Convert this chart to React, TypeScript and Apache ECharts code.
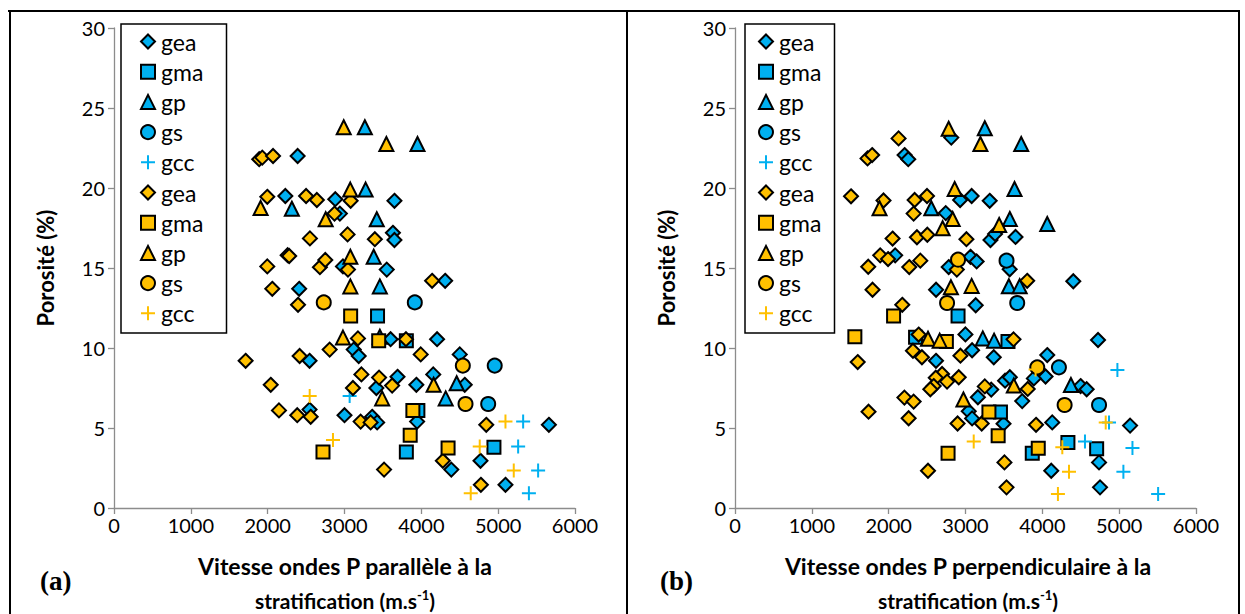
import React, { useEffect, useRef } from "react";
import * as echarts from "echarts";

// ---------- Data: panel (a) — parallel velocity (m/s), porosity (%) ----------
const parGeaBlue = [
  [2390, 22.0], [2230, 19.5], [2880, 19.3], [3650, 19.2], [2940, 18.4], [3630, 17.2], [3650, 16.75],
  [2980, 15.1], [3550, 14.9], [4310, 14.2], [2410, 13.7], [3600, 10.55], [4205, 10.55], [3120, 9.9],
  [3185, 9.5], [2545, 9.2], [4500, 9.6], [3690, 8.2], [4155, 8.35], [3415, 7.5], [3935, 7.7],
  [4565, 7.7], [2545, 6.15], [3000, 5.8], [3360, 5.7], [3425, 5.35], [3945, 5.4], [5660, 5.2],
  [4770, 2.95], [4390, 2.4], [5095, 1.45],
];
const parGmaBlue = [[3430, 12.0], [3805, 10.45], [3955, 6.1], [3805, 3.5], [4945, 3.8]];
const parGpBlue = [
  [3265, 23.8], [3950, 22.75], [2315, 18.7], [3275, 19.9], [3420, 18.05], [3380, 15.7],
  [3460, 13.85], [3460, 10.7], [4460, 7.8], [4317, 6.85],
];
const parGsBlue = [[3915, 12.85], [4955, 8.9], [4870, 6.5]];
const parGccBlue = [[3067, 7.0], [5325, 5.4], [5260, 3.85], [5520, 2.35], [5400, 0.92]];

const parGeaOrange = [
  [1890, 21.8], [1930, 21.9], [2070, 22.0], [1995, 19.45], [2500, 19.5], [2640, 19.25], [3080, 19.2],
  [2870, 18.4], [2550, 16.85], [3040, 17.1], [3395, 16.8], [2260, 15.8], [2280, 15.75], [1995, 15.1],
  [2680, 15.05], [2750, 15.5], [3045, 14.9], [4140, 14.2], [2060, 13.7], [2395, 12.7], [3175, 10.6],
  [3800, 10.55], [1713, 9.2], [2416, 9.5], [2807, 9.9], [3992, 9.6], [2040, 7.7], [3220, 8.35],
  [3450, 8.15], [3110, 7.5], [3620, 7.65], [2147, 6.1], [2385, 5.8], [2560, 5.7], [3210, 5.4],
  [3340, 5.35], [4280, 2.95], [3515, 2.4], [4845, 5.2], [4775, 1.45],
];
const parGmaOrange = [[3080, 12.0], [3445, 10.45], [3890, 6.1], [3855, 4.55], [2720, 3.5], [4348, 3.75]];
const parGpOrange = [
  [2990, 23.8], [3545, 22.75], [1908, 18.75], [3075, 19.9], [2755, 18.05], [3076, 15.7],
  [3076, 13.85], [2980, 10.65], [4160, 7.7], [3490, 6.85],
];
const parGsOrange = [[2730, 12.85], [4540, 8.9], [4575, 6.5]];
const parGccOrange = [[2547, 7.0], [2850, 4.25], [5095, 5.4], [4760, 3.85], [5203, 2.35], [4643, 0.92]];

// ---------- Data: panel (b) — perpendicular velocity (m/s), porosity (%) ----------
const perGeaBlue = [
  [2815, 23.15], [2207, 22.06], [2255, 21.8], [2930, 19.25], [3080, 19.5], [3315, 19.2], [2743, 18.43],
  [3325, 16.75], [3385, 17.13], [3651, 16.94], [2085, 15.79], [2781, 15.06], [3065, 15.7], [3145, 15.41],
  [3575, 14.92], [2617, 13.64], [4403, 14.17], [3133, 12.67], [2999, 10.85], [4725, 10.5], [2616, 9.2],
  [3086, 9.86], [3368, 9.42], [4064, 9.56], [4042, 8.22], [3890, 8.1], [3515, 7.96], [3577, 8.17],
  [3335, 7.4], [4498, 7.62], [4577, 7.42], [3161, 6.92], [3738, 6.68], [3042, 6.05], [3086, 5.6],
  [3495, 5.27], [4129, 5.35], [5142, 5.15], [4116, 2.33], [4738, 2.85], [4751, 1.29],
];
const perGmaBlue = [[2903, 12.0], [2350, 10.67], [3553, 10.4], [3455, 6.0], [3869, 3.42], [4333, 4.1], [4707, 3.7]];
const perGpBlue = [
  [3251, 23.73], [3725, 22.75], [2555, 18.73], [3638, 19.94], [3577, 18.06], [4064, 17.75],
  [3564, 13.86], [3705, 13.86], [3225, 10.6], [3372, 10.46], [4372, 7.69],
];
const perGsBlue = [[3534, 15.46], [3673, 12.81], [4216, 8.79], [4738, 6.44]];
const perGccBlue = [[4977, 8.63], [4555, 4.15], [4868, 5.35], [5173, 3.75], [5055, 2.27], [5507, 0.88]];

const perGeaOrange = [
  [2129, 23.1], [1725, 21.85], [1785, 22.06], [1510, 19.48], [1933, 19.22], [2338, 19.25], [2499, 19.5],
  [2325, 18.4], [2051, 16.84], [2368, 16.92], [2503, 17.08], [3012, 16.8], [1890, 15.79], [1992, 15.56],
  [1734, 15.08], [2268, 15.06], [2412, 15.46], [2887, 14.9], [1790, 13.64], [3803, 14.2], [2177, 12.7],
  [2390, 10.84], [3625, 10.54], [2316, 9.83], [2433, 9.42], [2934, 9.52], [1597, 9.12], [2695, 8.38],
  [2613, 8.14], [2760, 7.9], [2912, 8.17], [2586, 7.62], [2542, 7.42], [3251, 7.6], [3810, 7.44],
  [2205, 6.9], [2325, 6.65], [1738, 6.02], [2260, 5.61], [2897, 5.28], [3211, 5.28], [3918, 5.2],
  [3507, 2.85], [2512, 2.33], [3534, 1.29],
];
const perGmaOrange = [[2064, 12.0], [1560, 10.7], [2751, 10.4], [3305, 6.0], [3425, 4.52], [2773, 3.42], [3947, 3.73]];
const perGpOrange = [
  [2781, 23.7], [3194, 22.75], [1881, 18.73], [2859, 19.94], [2833, 18.06], [2702, 17.48], [3438, 17.69],
  [2810, 13.8], [3080, 13.88], [2512, 10.58], [2664, 10.46], [2973, 6.78], [3629, 7.65],
];
const perGsOrange = [[2903, 15.52], [2760, 12.81], [3934, 8.79], [4290, 6.44]];
const perGccOrange = [[3107, 4.15], [3912, 8.65], [4825, 5.35], [4260, 3.79], [4347, 2.27], [4203, 0.88]];

const groupNames = ["gea", "gma", "gp", "gs", "gcc"];
const xTickValues = [0, 1000, 2000, 3000, 4000, 5000, 6000];
const yTickValues = [0, 5, 10, 15, 20, 25, 30];

// ---------- Styling ----------
const BLUE = "#00B0F0";
const ORANGE = "#FFC000";
const AXIS_GREY = "#8c8c8c";
const PLUS = "path://M6,0h2v6h6v2h-6v6h-2v-6h-6v-2h6z";
const SYMBOLS: Record<string, { symbol: string; size: number }> = {
  gea: { symbol: "diamond", size: 14 },
  gma: { symbol: "rect", size: 13 },
  gp: { symbol: "triangle", size: 14 },
  gs: { symbol: "circle", size: 14 },
  gcc: { symbol: PLUS, size: 14 },
};

function makeSeries(name: string, color: string, data: number[][], idx: number, orange: boolean) {
  const s = SYMBOLS[name];
  const isPlus = name === "gcc";
  return {
    type: "scatter",
    name: orange ? name + " " : name,
    xAxisIndex: idx,
    yAxisIndex: idx,
    data,
    symbol: s.symbol,
    symbolSize: s.size,
    symbolKeepAspect: true,
    itemStyle: {
      color,
      opacity: 1,
      borderColor: "#000",
      borderWidth: isPlus ? 0 : 2,
    },
    emphasis: { disabled: true },
    z: orange ? 3 : 2,
  };
}

export default function App() {
  const ref = useRef<HTMLDivElement>(null);
  useEffect(() => {
    document.body.style.margin = "0";
    if (!ref.current) return;
    const chart = echarts.init(ref.current, undefined, { renderer: "svg" });

    const panels = [
      {
        blue: [parGeaBlue, parGmaBlue, parGpBlue, parGsBlue, parGccBlue],
        orange: [parGeaOrange, parGmaOrange, parGpOrange, parGsOrange, parGccOrange],
      },
      {
        blue: [perGeaBlue, perGmaBlue, perGpBlue, perGsBlue, perGccBlue],
        orange: [perGeaOrange, perGmaOrange, perGpOrange, perGsOrange, perGccOrange],
      },
    ];
    const series: any[] = [];
    panels.forEach((p, i) => {
      groupNames.forEach((g, k) => series.push(makeSeries(g, BLUE, p.blue[k], i, false)));
      groupNames.forEach((g, k) => series.push(makeSeries(g, ORANGE, p.orange[k], i, true)));
    });
    const legendNames = [...groupNames, ...groupNames.map((g) => g + " ")];

    const gridLefts = [114, 735];
    const axisCommonX = (i: number) => ({
      gridIndex: i,
      type: "value",
      min: xTickValues[0],
      max: xTickValues[xTickValues.length - 1],
      interval: xTickValues[1] - xTickValues[0],
      axisLine: { show: true, onZero: false, lineStyle: { color: AXIS_GREY, width: 1.3 } },
      axisTick: { show: true, length: 6, lineStyle: { color: AXIS_GREY, width: 1.3 } },
      splitLine: { show: false },
      axisLabel: {
        color: "#000",
        fontSize: 20,
        margin: 7,
        fontFamily: "Lato",
        formatter: (v: number) => String(v),
      },
    });
    const axisCommonY = (i: number) => ({
      gridIndex: i,
      type: "value",
      min: yTickValues[0],
      max: yTickValues[yTickValues.length - 1],
      interval: yTickValues[1] - yTickValues[0],
      name: "Porosité (%)",
      nameLocation: "middle",
      nameGap: 58,
      nameRotate: 90,
      nameTextStyle: { color: "#000", fontSize: 22, fontWeight: "bold", fontFamily: "Lato" },
      axisLine: { show: true, lineStyle: { color: AXIS_GREY, width: 1.3 } },
      axisTick: { show: true, length: 6, lineStyle: { color: AXIS_GREY, width: 1.3 } },
      splitLine: { show: false },
      axisLabel: { color: "#000", fontSize: 20, margin: 9, fontFamily: "Lato" },
    });

    const legendBoxes = [
      { x: 121, y: 24, w: 105.5, h: 309, iconLeft: 140 },
      { x: 745, y: 24, w: 89.5, h: 309, iconLeft: 758 },
    ];

    const xTitle1 = ["Vitesse ondes P parallèle à la", "Vitesse ondes P perpendiculaire à la"];
    const titleCenters = [345, 968];
    const panelLabels = ["(a)", "(b)"];
    const panelLabelX = [40, 660];

    const graphic: any[] = [];
    // outer frame
    graphic.push({ type: "line", shape: { x1: 8, y1: 11, x2: 1240, y2: 11 }, style: { stroke: "#000", lineWidth: 2 } });
    graphic.push({ type: "line", shape: { x1: 10, y1: 10, x2: 10, y2: 614 }, style: { stroke: "#000", lineWidth: 2 } });
    graphic.push({ type: "line", shape: { x1: 627, y1: 10, x2: 627, y2: 614 }, style: { stroke: "#000", lineWidth: 2 } });
    graphic.push({ type: "line", shape: { x1: 1239, y1: 10, x2: 1239, y2: 614 }, style: { stroke: "#000", lineWidth: 2 } });
    legendBoxes.forEach((b) => {
      graphic.push({
        type: "rect",
        z: 1,
        shape: { x: b.x, y: b.y, width: b.w, height: b.h },
        style: { fill: "#fff", stroke: "#000", lineWidth: 1.5 },
      });
    });
    [0, 1].forEach((i) => {
      graphic.push({
        type: "text",
        x: titleCenters[i],
        y: 566,
        style: {
          text: xTitle1[i],
          font: "bold 23px Lato",
          fill: "#000",
          textAlign: "center",
          textVerticalAlign: "middle",
        },
      });
      graphic.push({
        type: "text",
        x: titleCenters[i],
        y: 600,
        style: {
          text: "stratification (m.s{sup|-1})",
          font: "bold 21px Lato",
          fill: "#000",
          textAlign: "center",
          textVerticalAlign: "middle",
          rich: {
            sup: { font: "bold 13px Lato", fill: "#000", padding: [0, 0, 10, 0] },
          },
        },
      });
      graphic.push({
        type: "text",
        x: panelLabelX[i],
        y: 581,
        style: {
          text: panelLabels[i],
          font: "bold 27px 'Liberation Serif'",
          fill: "#000",
          textVerticalAlign: "middle",
        },
      });
    });

    chart.setOption({
      animation: false,
      backgroundColor: "#fff",
      textStyle: { fontFamily: "Lato" },
      grid: gridLefts.map((l) => ({ left: l, top: 28, width: 461, height: 480 })),
      xAxis: [axisCommonX(0), axisCommonX(1)],
      yAxis: [axisCommonY(0), axisCommonY(1)],
      legend: legendBoxes.map((b) => ({
        orient: "vertical",
        left: b.iconLeft,
        top: 30,
        padding: 0,
        itemWidth: 14,
        itemHeight: 14,
        itemGap: 7.2,
        selectedMode: false,
        data: legendNames,
        formatter: (n: string) => n.trim(),
        textStyle: { color: "#000", fontSize: 23, fontFamily: "Lato", padding: [0, 0, 0, 1] },
      })),
      graphic,
      series,
    });
    return () => chart.dispose();
  }, []);
  return <div ref={ref} style={{ width: 1245, height: 614 }} />;
}
